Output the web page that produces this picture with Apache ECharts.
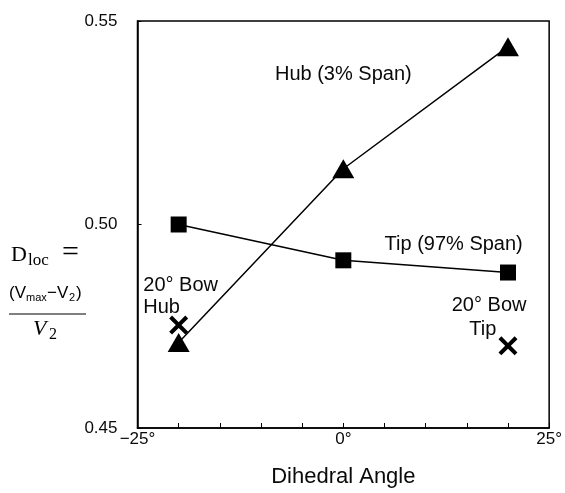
<!DOCTYPE html>
<html>
<head>
<meta charset="utf-8">
<script src="https://cdn.jsdelivr.net/npm/echarts@6/dist/echarts.min.js"></script>
<style>
  html, body { margin: 0; padding: 0; background: #fff; }
  #chart { width: 565px; height: 493px; }
</style>
</head>
<body>
<div id="chart"></div>
<script>
// Dihedral angle (degrees) at which each configuration was measured
const angles = [-20, 0, 20];
// Loss parameter D_loc for the hub section (3% span) and tip section (97% span)
const hubValues = [0.471, 0.5137, 0.5437];
const tipValues = [0.500, 0.4912, 0.4882];
// 20° bowed blade: hub and tip results
const bowAngles = [-20, 20];
const bowValues = [0.4753, 0.4702];
// Tick labels on the angle axis
const xTickLabels = { '-25': '\u221225°', '0': '0°', '25': '25°' };
// Text notes anchored in data coordinates [angle, D_loc]
const noteTexts = ['Hub (3% Span)', 'Tip (97% Span)', '20° Bow', 'Hub', '20° Bow', 'Tip'];
const noteAnchors = [[0, 0.5369], [13.4, 0.495], [-24.3, 0.4851], [-24.3, 0.4797], [13.17, 0.4802], [15.3, 0.4743]];
const noteAlign = ['center', 'center', 'left', 'left', 'left', 'left'];

const SANS = '"Liberation Sans", Arial, sans-serif';
const SERIF = '"Liberation Serif", "Times New Roman", serif';
const INK = '#000';
const TEXT = '#0a0a0a';

const crossPath = 'path://M3,0 L10,7 L17,0 L20,3 L13,10 L20,17 L17,20 L10,13 L3,20 L0,17 L7,10 L0,3 Z';

const chart = echarts.init(document.getElementById('chart'), null, { renderer: 'canvas' });

const option = {
  backgroundColor: '#fff',
  animation: false,
  grid: {
    left: 137.5, right: 11, top: 21, bottom: 60,
    show: true, borderColor: INK, borderWidth: 1.5, backgroundColor: 'transparent'
  },
  xAxis: {
    type: 'value', min: -25, max: 25, interval: 5,
    name: 'Dihedral Angle', nameLocation: 'middle', nameGap: 38,
    nameTextStyle: { fontFamily: SANS, fontSize: 22, color: TEXT },
    axisLine: { show: true, onZero: false, lineStyle: { color: INK, width: 1.5 } },
    axisTick: { show: true, inside: true, length: 5, lineStyle: { color: INK, width: 1 } },
    axisLabel: {
      margin: 3, fontFamily: SANS, fontSize: 17, color: TEXT,
      formatter: v => xTickLabels[String(v)] || ''
    },
    splitLine: { show: false }
  },
  yAxis: {
    type: 'value', min: 0.45, max: 0.55, interval: 0.05,
    axisLine: { show: true, onZero: false, lineStyle: { color: INK, width: 1.5 } },
    axisTick: { show: true, inside: true, length: 4, lineStyle: { color: INK, width: 1 } },
    axisLabel: {
      margin: 20, fontFamily: SANS, fontSize: 17, color: TEXT,
      formatter: v => v.toFixed(2)
    },
    splitLine: { show: false }
  },
  series: [
    {
      name: 'Hub (3% Span)', type: 'line',
      data: angles.map((a, i) => [a, hubValues[i]]),
      symbol: 'triangle', symbolSize: [22, 19], showAllSymbol: true,
      itemStyle: { color: INK, opacity: 1 }, lineStyle: { color: INK, width: 1.5 }, z: 3
    },
    {
      name: 'Tip (97% Span)', type: 'line',
      data: angles.map((a, i) => [a, tipValues[i]]),
      symbol: 'rect', symbolSize: 16, showAllSymbol: true,
      itemStyle: { color: INK, opacity: 1 }, lineStyle: { color: INK, width: 1.5 }, z: 3
    },
    {
      name: '20° Bow', type: 'scatter',
      data: bowAngles.map((a, i) => [a, bowValues[i]]),
      symbol: crossPath, symbolSize: 19,
      itemStyle: { color: INK, opacity: 1 }, z: 4
    },
    {
      name: 'notes', type: 'scatter', silent: true,
      data: noteAnchors.map((p, i) => ({
        value: p,
        label: { align: noteAlign[i] }
      })),
      symbolSize: 1, itemStyle: { color: 'rgba(0,0,0,0)', opacity: 1 },
      label: {
        show: true, position: 'inside', verticalAlign: 'middle',
        fontFamily: SANS, fontSize: 20, color: TEXT,
        formatter: p => noteTexts[p.dataIndex]
      },
      z: 5
    }
  ],
  graphic: [
    // Vertical axis title: D_loc = (V_max − V_2) / V_2
    { type: 'text', left: 11, top: 244, style: { text: 'D', font: '22px ' + SERIF, fill: INK } },
    { type: 'text', left: 28, top: 252, style: { text: 'loc', font: '17px ' + SERIF, fill: INK } },
    { type: 'text', left: 62, top: 238, style: { text: '=', font: '30px ' + SERIF, fill: INK } },
    { type: 'text', left: 9, top: 285, style: { text: '(V', font: '17px ' + SANS, fill: INK } },
    { type: 'text', left: 26, top: 292, style: { text: 'max', font: '11px ' + SANS, fill: INK } },
    { type: 'text', left: 47, top: 285, style: { text: '\u2212V', font: '17px ' + SANS, fill: INK } },
    { type: 'text', left: 69, top: 292, style: { text: '2', font: '11px ' + SANS, fill: INK } },
    { type: 'text', left: 76, top: 285, style: { text: ')', font: '17px ' + SANS, fill: INK } },
    { type: 'line', shape: { x1: 9, y1: 314, x2: 86, y2: 314 }, style: { stroke: INK, lineWidth: 1 } },
    { type: 'text', left: 33, top: 318, style: { text: 'V', font: 'italic 22px ' + SERIF, fill: INK } },
    { type: 'text', left: 49, top: 327, style: { text: '2', font: '16px ' + SERIF, fill: INK } }
  ]
};

chart.setOption(option);
</script>
</body>
</html>
